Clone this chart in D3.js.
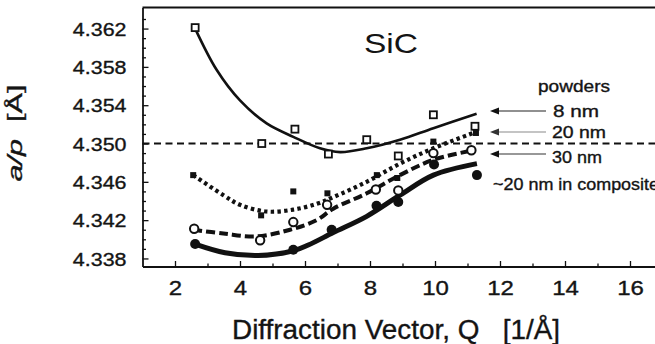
<!DOCTYPE html>
<html>
<head>
<meta charset="utf-8">
<script src="https://cdn.jsdelivr.net/npm/d3@7"></script>
<style>
  html, body { margin: 0; padding: 0; background: #fff; overflow: hidden; }
  svg { display: block; }
  text { font-family: "Liberation Sans", Arial, Helvetica, sans-serif; fill: #141414; white-space: pre; }
  .heavy { stroke: #141414; stroke-width: 0.35px; }
</style>
</head>
<body>
<svg id="chart" width="655" height="344"></svg>
<script>
// Lattice parameter a/p of SiC versus diffraction vector Q.

// 8 nm powder (open squares)
const q8nm = [2.62, 4.67, 5.69, 6.72, 7.90, 8.87, 9.95, 11.23];
const a8nm = [4.3621, 4.3500, 4.3515, 4.3489, 4.3504, 4.3487, 4.3530, 4.3518];
// 20 nm powder (filled squares)
const q20nm = [2.56, 4.65, 5.64, 6.69, 8.21, 8.84, 9.95, 11.26];
const a20nm = [4.3467, 4.3425, 4.3450, 4.3448, 4.3467, 4.3464, 4.3502, 4.3511];
// 30 nm powder (open circles)
const q30nm = [2.59, 4.62, 5.64, 6.68, 8.18, 8.87, 9.95, 11.12];
const a30nm = [4.3411, 4.3399, 4.3418, 4.3436, 4.3452, 4.3451, 4.3490, 4.3493];
// ~20 nm grains in composite (filled circles)
const qComp = [2.62, 5.64, 6.82, 8.20, 8.87, 9.97, 11.29];
const aComp = [4.3395, 4.3389, 4.3410, 4.3435, 4.3439, 4.3478, 4.3467];

// Smooth trend curves through each series
const fitQ8nm = [2.62, 3.28, 4.00, 4.82, 5.64, 6.46, 7.08, 7.90, 8.92, 9.95, 11.28];
const fitA8nm = [4.3620, 4.3577, 4.3545, 4.3521, 4.3507, 4.3495, 4.3491, 4.3495, 4.3504, 4.3516, 4.3531];
const fitQ20nm = [2.56, 3.49, 4.00, 4.82, 5.64, 6.36, 6.87, 7.90, 8.92, 9.95, 11.18];
const fitA20nm = [4.3467, 4.3446, 4.3436, 4.3429, 4.3431, 4.3437, 4.3444, 4.3460, 4.3479, 4.3495, 4.3511];
const fitQ30nm = [2.56, 3.49, 4.51, 5.54, 6.36, 6.87, 7.90, 8.92, 9.95, 11.18];
const fitA30nm = [4.3410, 4.3406, 4.3403, 4.3410, 4.3420, 4.3432, 4.3448, 4.3467, 4.3483, 4.3493];
const fitQComp = [2.62, 3.54, 4.56, 5.64, 6.10, 6.87, 7.90, 8.92, 9.95, 11.29];
const fitAComp = [4.3395, 4.3386, 4.3383, 4.3388, 4.3394, 4.3407, 4.3424, 4.3446, 4.3467, 4.3479];

// Axis ticks and reference level
const yMajorTicks = [4.338, 4.342, 4.346, 4.350, 4.354, 4.358, 4.362];
const yMinorTicks = [4.339, 4.340, 4.341, 4.343, 4.344, 4.345, 4.347, 4.348, 4.349,
                     4.351, 4.352, 4.353, 4.355, 4.356, 4.357, 4.359, 4.360, 4.361, 4.363];
const xMajorTicks = [2, 4, 6, 8, 10, 12, 14, 16];
const xMinorTicks = [3, 5, 7, 9, 11, 13, 15, 17];
const referenceLevel = 4.350;

// Annotation texts
const legendTitle = "powders";
const legendLabels = ["8 nm", "20 nm", "30 nm"];
const compositeLabel = "~20 nm in composite";

const svg = d3.select("#chart");
const W = 655, H = 344;

const x = d3.scaleLinear().domain([1, 17.5]).range([142.5, 678.75]);
const y = d3.scaleLinear().domain([4.33716, 4.3642]).range([266.5, 7.5]);

const zip = (qs, as) => qs.map((q, i) => ({ q, a: as[i] }));

const series = [
  { key: "8nm",  pts: zip(q8nm, a8nm),   fit: zip(fitQ8nm, fitA8nm),   marker: "openSquare",   lw: 2.6, dash: null },
  { key: "20nm", pts: zip(q20nm, a20nm), fit: zip(fitQ20nm, fitA20nm), marker: "filledSquare", lw: 4.2, dash: "3.4,3.3" },
  { key: "30nm", pts: zip(q30nm, a30nm), fit: zip(fitQ30nm, fitA30nm), marker: "openCircle",   lw: 4.0, dash: "9,4" },
  { key: "comp", pts: zip(qComp, aComp), fit: zip(fitQComp, fitAComp), marker: "filledCircle", lw: 5.0, dash: null }
];

const ink = "#111";

// Axes with inward ticks
const yAxisG = svg.append("g").attr("transform", `translate(${x.range()[0]},0)`)
  .call(d3.axisLeft(y).tickValues(yMajorTicks).tickSize(-6).tickSizeOuter(0).tickFormat(d3.format(".3f")));
svg.append("g").attr("transform", `translate(${x.range()[0]},0)`)
  .call(d3.axisLeft(y).tickValues(yMinorTicks).tickSize(-3.5).tickSizeOuter(0).tickFormat(""))
  .call(g => g.select(".domain").remove());

const xAxisG = svg.append("g").attr("transform", `translate(0,${y.range()[0]})`)
  .call(d3.axisBottom(x).tickValues(xMajorTicks).tickSize(-5.5).tickSizeOuter(0).tickFormat(d3.format("d")));
svg.append("g").attr("transform", `translate(0,${y.range()[0]})`)
  .call(d3.axisBottom(x).tickValues(xMinorTicks).tickSize(-3).tickSizeOuter(0).tickFormat(""))
  .call(g => g.select(".domain").remove());

svg.selectAll(".domain").attr("stroke", ink).attr("stroke-width", 1.8);
svg.selectAll(".tick line").attr("stroke", ink).attr("stroke-width", 1.3);

const ySX = 1.16;
yAxisG.selectAll(".tick text")
  .attr("class", "heavy")
  .attr("x", -16 / ySX).attr("dy", "0.36em")
  .attr("transform", `scale(${ySX},1)`)
  .style("font-size", "18.5px").attr("fill", "#141414");

const xSX = 1.2;
xAxisG.selectAll(".tick text")
  .attr("class", "heavy")
  .attr("y", 14.5).attr("dy", "0.71em")
  .attr("transform", `scale(${xSX},1)`)
  .style("font-size", "20px").attr("fill", "#141414");

// Top frame line
svg.append("line")
  .attr("x1", x.range()[0]).attr("x2", W)
  .attr("y1", y.range()[1]).attr("y2", y.range()[1])
  .attr("stroke", ink).attr("stroke-width", 1.8);

// Reference level line at 4.350
svg.append("line")
  .attr("x1", x.range()[0]).attr("x2", W)
  .attr("y1", y(referenceLevel)).attr("y2", y(referenceLevel))
  .attr("stroke", ink).attr("stroke-width", 1.9)
  .attr("stroke-dasharray", "7,4.5");

// Trend curves
const line = d3.line().x(d => x(d.q)).y(d => y(d.a)).curve(d3.curveCatmullRom.alpha(0.5));
series.forEach(s => {
  svg.append("path")
    .datum(s.fit)
    .attr("d", line)
    .attr("fill", "none")
    .attr("stroke", ink)
    .attr("stroke-width", s.lw)
    .attr("stroke-dasharray", s.dash)
    .attr("stroke-linecap", "butt");
});

// Markers
series.forEach(s => {
  const g = svg.append("g");
  const pts = g.selectAll("g").data(s.pts).join("g")
    .attr("transform", d => `translate(${x(d.q)},${y(d.a)})`);
  if (s.marker === "openSquare") {
    pts.append("rect").attr("x", -3.5).attr("y", -3.5).attr("width", 7).attr("height", 7)
      .attr("fill", "#fff").attr("stroke", ink).attr("stroke-width", 1.8);
  } else if (s.marker === "filledSquare") {
    pts.append("rect").attr("x", -3).attr("y", -3).attr("width", 6).attr("height", 6)
      .attr("fill", ink);
  } else if (s.marker === "openCircle") {
    pts.append("circle").attr("r", 4.2)
      .attr("fill", "#fff").attr("stroke", ink).attr("stroke-width", 2);
  } else {
    pts.append("circle").attr("r", 5).attr("fill", ink);
  }
});

// Title
svg.append("text")
  .attr("x", 391).attr("y", 53)
  .attr("text-anchor", "middle")
  .attr("textLength", 54).attr("lengthAdjust", "spacingAndGlyphs")
  .style("font-size", "28px")
  .text("SiC");

// Axis titles
svg.append("text")
  .attr("class", "heavy")
  .attr("x", 396).attr("y", 339)
  .attr("text-anchor", "middle")
  .attr("textLength", 328).attr("lengthAdjust", "spacingAndGlyphs")
  .style("font-size", "27px")
  .text("Diffraction Vector, Q   [1/Å]");

const yTitle = svg.append("text")
  .attr("class", "heavy")
  .attr("transform", "translate(22,133) rotate(-90)")
  .attr("text-anchor", "middle")
  .attr("textLength", 97).attr("lengthAdjust", "spacingAndGlyphs")
  .style("font-size", "21px");
yTitle.append("tspan").style("font-style", "italic").text("a/p");
yTitle.append("tspan").text("  [Å]");

// Annotation block on the right
svg.append("text")
  .attr("class", "heavy")
  .attr("x", 574).attr("y", 92)
  .attr("text-anchor", "middle")
  .attr("textLength", 72).attr("lengthAdjust", "spacingAndGlyphs")
  .style("font-size", "16px")
  .text(legendTitle);

const labelY = [117, 138, 163];
const labelW = [46, 54, 50];
const labelX = [576, 579, 577];
const arrowY = [111, 132, 154];
const arrowColor = ["#222", "#8a8a8a", "#333"];
legendLabels.forEach((t, i) => {
  svg.append("text")
    .attr("class", "heavy")
    .attr("x", labelX[i]).attr("y", labelY[i])
    .attr("text-anchor", "middle")
    .attr("textLength", labelW[i]).attr("lengthAdjust", "spacingAndGlyphs")
    .style("font-size", "16px")
    .text(t);
  svg.append("line")
    .attr("x1", 496).attr("x2", 546)
    .attr("y1", arrowY[i]).attr("y2", arrowY[i])
    .attr("stroke", arrowColor[i]).attr("stroke-width", 1.2);
  svg.append("path")
    .attr("d", `M490,${arrowY[i]} L499,${arrowY[i] - 3.5} L499,${arrowY[i] + 3.5} Z`)
    .attr("fill", arrowColor[i] === "#8a8a8a" ? "#333" : "#111");
});

svg.append("text")
  .attr("class", "heavy")
  .attr("x", 493).attr("y", 190)
  .attr("textLength", 166).attr("lengthAdjust", "spacingAndGlyphs")
  .style("font-size", "16px")
  .text(compositeLabel);
</script>
</body>
</html>
